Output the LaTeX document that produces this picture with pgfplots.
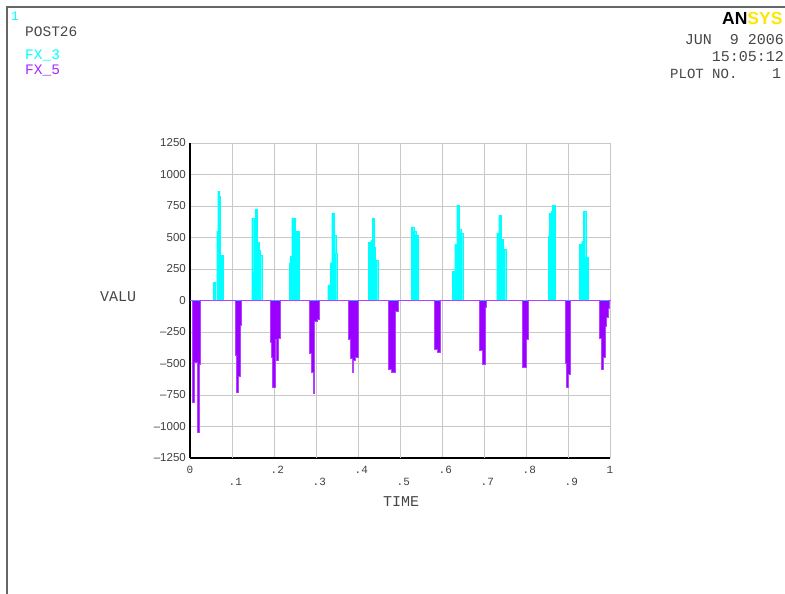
\documentclass[border=0pt]{standalone}
\usepackage{pgfplots}
\usepackage{pgfplotstable}
\pgfplotsset{compat=1.18}
\usepackage{fontspec}
\setmainfont{Liberation Mono}
\newfontfamily\sansf{Liberation Sans}
\definecolor{fxc}{RGB}{0,255,255}
\definecolor{fxp}{RGB}{153,0,255}
\definecolor{anyel}{RGB}{255,230,0}
\definecolor{txtg}{RGB}{70,70,70}
\definecolor{gridg}{RGB}{200,200,200}

% FX_3 (cyan), step values held from t to next t
\pgfplotstableread{
t v
0 0
0.0555 145
0.0603 0
0.0636 550
0.0660 868
0.0698 830
0.0715 300
0.0746 357
0.0793 0
0.1469 656
0.1517 222
0.1548 728
0.1603 460
0.1643 400
0.1679 360
0.1708 0
0.2365 300
0.2393 350
0.2422 656
0.2500 550
0.2603 0
0.3279 125
0.3334 300
0.3374 696
0.3429 516
0.3469 378
0.3493 0
0.4246 460
0.4303 480
0.4334 656
0.4381 420
0.4417 320
0.4469 0
0.5262 585
0.5327 550
0.5374 520
0.5436 0
0.6246 233
0.6303 444
0.6350 754
0.6405 569
0.6446 537
0.6493 0
0.7303 537
0.7350 675
0.7412 484
0.7460 405
0.7517 0
0.8531 510
0.8560 690
0.8596 712
0.8619 754
0.8691 0
0.9269 444
0.9327 471
0.9365 712
0.9422 347
0.9484 0
1 0
}\cyandata

% FX_5 (purple)
\pgfplotstableread{
t v
0 0
0.0055 -807
0.0119 -494
0.0174 -1050
0.0222 -508
0.0255 0
0.1072 -440
0.1112 -730
0.1160 -600
0.1208 -200
0.1231 0
0.1905 -330
0.1945 -450
0.1976 -693
0.2024 -310
0.2048 -480
0.2102 -300
0.2143 -50
0.2160 0
0.2841 -420
0.2898 -570
0.2936 -735
0.2976 -170
0.3041 -150
0.3095 0
0.3769 -310
0.3833 -460
0.3874 -575
0.3898 -480
0.3952 -455
0.4000 0
0.4722 -545
0.4802 -575
0.4881 -85
0.4960 0
0.5826 -385
0.5898 -413
0.5976 0
0.6888 -400
0.6969 -505
0.7024 -55
0.7055 0
0.7921 -532
0.8000 -310
0.8064 0
0.8929 -500
0.8969 -693
0.9008 -590
0.9064 0
0.9745 -300
0.9802 -545
0.9841 -450
0.9881 -210
0.9921 -135
0.9960 -60
0.9988 0
1 0
}\purpdata

\begin{document}
\begin{tikzpicture}
\useasboundingbox (0,0) rectangle (785pt,-594pt);
\clip (0,0) rectangle (785pt,-594pt);
\draw[black!60, line width=1.2pt] (7pt,-600pt) -- (7pt,-7pt) -- (790pt,-7pt);
\begin{axis}[
  at={(190pt,-458pt)}, anchor=south west,
  scale only axis, width=420pt, height=315pt,
  xmin=0, xmax=1, ymin=-1250, ymax=1250,
  axis x line*=bottom, axis y line*=left,
  axis line style={-, black, line width=2pt},
  every outer x axis line/.append style={-},
  every outer y axis line/.append style={-},
  grid=major,
  major grid style={gridg, line width=0.9pt},
  major tick length=0pt,
  ytick={-1250,-1000,-750,-500,-250,0,250,500,750,1000,1250},
  yticklabels={\textendash1250,\textendash1000,\textendash750,\textendash500,\textendash250,0,250,500,750,1000,1250},
  yticklabel style={font=\sansf\fontsize{11.5}{12}\selectfont, text=black!75, inner sep=2pt, xshift=-2pt},
  xtick={0,0.2,0.4,0.6,0.8,1},
  xticklabels={0,\phantom{0}.2,\phantom{0}.4,\phantom{0}.6,\phantom{0}.8,1},
  xticklabel style={font=\fontsize{11}{12}\selectfont, text=black!75, yshift=-7pt, inner sep=1pt},
  extra x ticks={0.1,0.3,0.5,0.7,0.9},
  extra x tick labels={\phantom{0}.1,\phantom{0}.3,\phantom{0}.5,\phantom{0}.7,\phantom{0}.9},
  extra x tick style={grid=major, tick label style={yshift=-12pt}},
  clip=false,
]
\addplot[const plot, fill=fxc, draw=fxc, line width=0.3pt] table {\cyandata};
\addplot[const plot, fill=fxp, draw=fxp!75!white, line width=1pt] table {\purpdata};
\end{axis}
\node[anchor=base west, inner sep=0, text=fxc, font=\fontsize{13}{13}\selectfont] at (11pt,-21pt) {1};
\node[anchor=base west, inner sep=0, text=txtg, font=\fontsize{14.5}{15}\selectfont] at (25pt,-37pt) {POST26};
\node[anchor=base west, inner sep=0, text=fxc, font=\fontsize{14.5}{15}\selectfont] at (25pt,-60pt) {FX\_3};
\node[anchor=base west, inner sep=0, text=fxp!85!white, font=\fontsize{14.5}{15}\selectfont] at (25pt,-75pt) {FX\_5};
\node[anchor=base west, inner sep=0, font=\sansf\bfseries\fontsize{17.5}{18}\selectfont] at (722pt,-25pt) {AN\textcolor{anyel}{SYS}};
\node[anchor=base east, inner sep=0, text=txtg, font=\fontsize{15}{15}\selectfont] at (784pt,-45pt) {JUN\ \ 9 2006};
\node[anchor=base east, inner sep=0, text=txtg, font=\fontsize{15}{15}\selectfont] at (784pt,-62pt) {15:05:12};
\node[anchor=base west, inner sep=0, text=txtg, font=\fontsize{14}{15}\selectfont] at (670pt,-78pt) {PLOT NO.};
\node[anchor=base west, inner sep=0, text=txtg, font=\fontsize{15}{15}\selectfont] at (772pt,-78pt) {1};
\node[anchor=base west, inner sep=0, text=txtg, font=\fontsize{15}{15}\selectfont] at (100pt,-301pt) {VALU};
\node[anchor=base west, inner sep=0, text=txtg, font=\fontsize{15}{15}\selectfont] at (383pt,-506pt) {TIME};
\end{tikzpicture}
\end{document}
